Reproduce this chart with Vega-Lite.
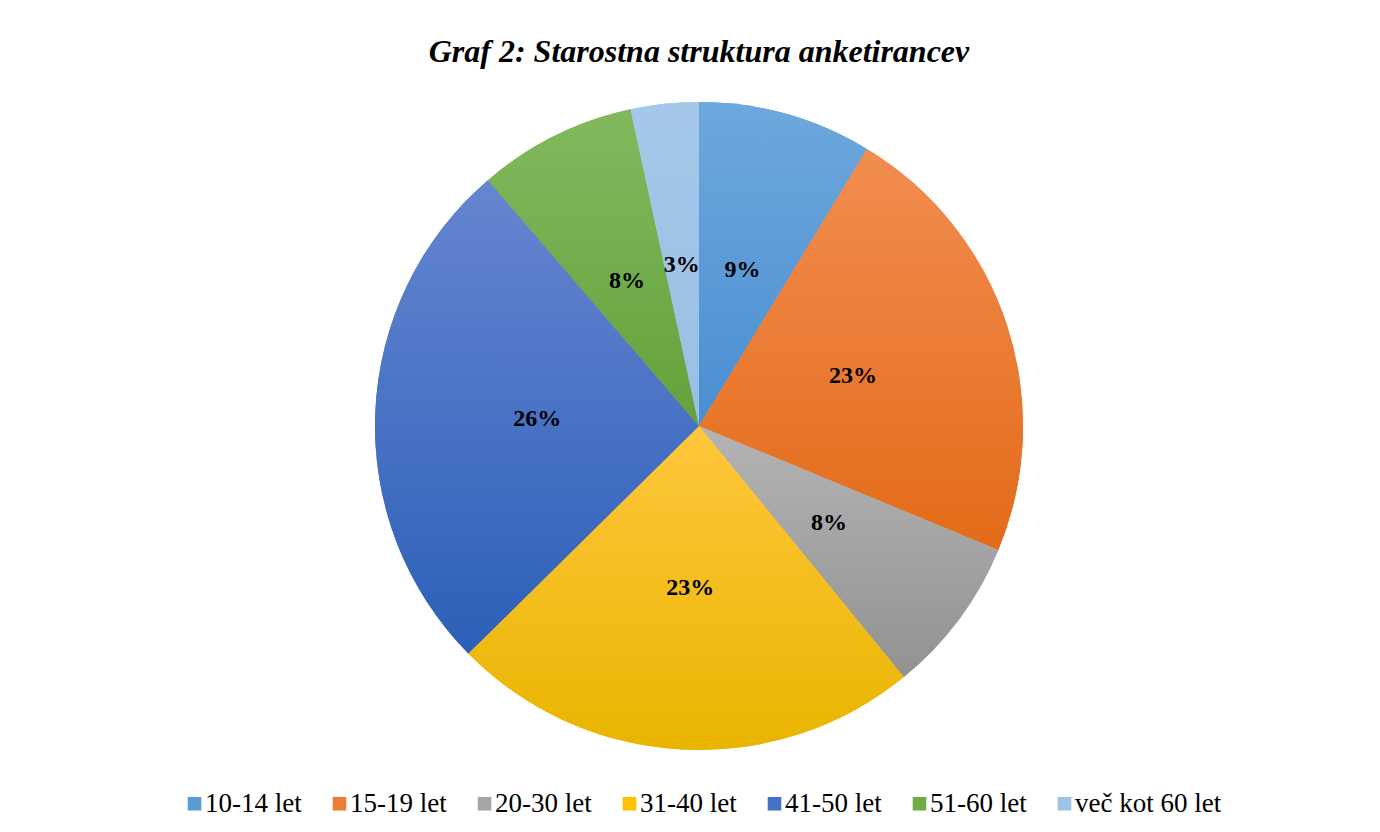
{
  "$schema": "https://vega.github.io/schema/vega-lite/v6.json",
  "autosize": "none",
  "width": 648,
  "height": 648,
  "padding": {"left": 375, "top": 102, "right": 357, "bottom": 82},
  "background": "white",
  "config": {
    "view": {"stroke": null},
    "legend": {"labelFont": "Liberation Serif", "labelFontSize": 27, "labelColor": "#000000"}
  },
  "title": {
    "text": "Graf 2: Starostna struktura anketirancev",
    "font": "Liberation Serif",
    "fontSize": 32,
    "fontWeight": "bold",
    "fontStyle": "italic",
    "color": "#000000",
    "anchor": "middle",
    "baseline": "alphabetic",
    "offset": 8
  },
  "data": {
    "values": [
      {"group": "10-14 let", "share": 8.67, "label": "9%"},
      {"group": "15-19 let", "share": 22.58, "label": "23%"},
      {"group": "20-30 let", "share": 7.86, "label": "8%"},
      {"group": "31-40 let", "share": 23.5, "label": "23%"},
      {"group": "41-50 let", "share": 26.1, "label": "26%"},
      {"group": "51-60 let", "share": 7.9, "label": "8%"},
      {"group": "več kot 60 let", "share": 3.39, "label": "3%"}
    ]
  },
  "transform": [
    {"stack": "share", "groupby": [], "as": ["t0", "t1"], "sort": [{"field": "group", "order": "ascending"}]}
  ],
  "layer": [
    {
      "mark": {"type": "arc", "stroke": null},
      "encoding": {
        "theta": {"field": "t0", "type": "quantitative", "scale": {"domain": [0, 100]}},
        "theta2": {"field": "t1"},
        "color": {
          "field": "group",
          "type": "nominal",
          "sort": null,
          "scale": {
            "domain": ["10-14 let", "15-19 let", "20-30 let", "31-40 let", "41-50 let", "51-60 let", "več kot 60 let"],
            "range": ["#5B9BD5", "#ED7D31", "#A5A5A5", "#FFC000", "#4472C4", "#70AD47", "#9DC3E6"]
          },
          "legend": {
            "title": null,
            "orient": "none",
            "direction": "horizontal",
            "legendX": -194,
            "legendY": 688,
            "padding": 0,
            "symbolType": "square",
            "symbolSize": 185,
            "symbolStrokeWidth": 0,
            "labelFont": "Liberation Serif",
            "labelFontSize": 27,
            "labelColor": "#000000",
            "labelOffset": -3,
            "columnPadding": 24,
            "labelLimit": 400
          }
        }
      }
    },
    {
      "transform": [{"filter": "datum.group == '10-14 let'"}],
      "mark": {"type": "arc", "stroke": null, "fill": {"gradient": "linear", "x1": 0, "y1": 0, "x2": 0, "y2": 1, "stops": [{"offset": 0, "color": "#6DA8DE"}, {"offset": 1, "color": "#4A8ED1"}]}},
      "encoding": {"theta": {"field": "t0", "type": "quantitative"}, "theta2": {"field": "t1"}}
    },
    {
      "transform": [{"filter": "datum.group == '15-19 let'"}],
      "mark": {"type": "arc", "stroke": null, "fill": {"gradient": "linear", "x1": 0, "y1": 0, "x2": 0, "y2": 1, "stops": [{"offset": 0, "color": "#F28D50"}, {"offset": 1, "color": "#E36B18"}]}},
      "encoding": {"theta": {"field": "t0", "type": "quantitative"}, "theta2": {"field": "t1"}}
    },
    {
      "transform": [{"filter": "datum.group == '20-30 let'"}],
      "mark": {"type": "arc", "stroke": null, "fill": {"gradient": "linear", "x1": 0, "y1": 0, "x2": 0, "y2": 1, "stops": [{"offset": 0, "color": "#B4B4B4"}, {"offset": 1, "color": "#929292"}]}},
      "encoding": {"theta": {"field": "t0", "type": "quantitative"}, "theta2": {"field": "t1"}}
    },
    {
      "transform": [{"filter": "datum.group == '31-40 let'"}],
      "mark": {"type": "arc", "stroke": null, "fill": {"gradient": "linear", "x1": 0, "y1": 0, "x2": 0, "y2": 1, "stops": [{"offset": 0, "color": "#FFC73D"}, {"offset": 1, "color": "#E9B500"}]}},
      "encoding": {"theta": {"field": "t0", "type": "quantitative"}, "theta2": {"field": "t1"}}
    },
    {
      "transform": [{"filter": "datum.group == '41-50 let'"}],
      "mark": {"type": "arc", "stroke": null, "fill": {"gradient": "linear", "x1": 0, "y1": 0, "x2": 0, "y2": 1, "stops": [{"offset": 0, "color": "#6586D0"}, {"offset": 1, "color": "#2C5FB8"}]}},
      "encoding": {"theta": {"field": "t0", "type": "quantitative"}, "theta2": {"field": "t1"}}
    },
    {
      "transform": [{"filter": "datum.group == '51-60 let'"}],
      "mark": {"type": "arc", "stroke": null, "fill": {"gradient": "linear", "x1": 0, "y1": 0, "x2": 0, "y2": 1, "stops": [{"offset": 0, "color": "#82B95E"}, {"offset": 1, "color": "#63A23A"}]}},
      "encoding": {"theta": {"field": "t0", "type": "quantitative"}, "theta2": {"field": "t1"}}
    },
    {
      "transform": [{"filter": "datum.group == 'več kot 60 let'"}],
      "mark": {"type": "arc", "stroke": null, "fill": {"gradient": "linear", "x1": 0, "y1": 0, "x2": 0, "y2": 1, "stops": [{"offset": 0, "color": "#A5C8EA"}, {"offset": 1, "color": "#98BFE4"}]}},
      "encoding": {"theta": {"field": "t0", "type": "quantitative"}, "theta2": {"field": "t1"}}
    },
    {
      "mark": {
        "type": "text",
        "radius": 162,
        "font": "Liberation Serif",
        "fontSize": 24,
        "fontWeight": "bold",
        "color": "#000000",
        "align": "center",
        "baseline": "middle"
      },
      "encoding": {
        "theta": {"field": "share", "type": "quantitative", "stack": true},
        "detail": {"field": "group", "type": "nominal"},
        "order": {"field": "group", "type": "nominal", "sort": "ascending"},
        "text": {"field": "label", "type": "nominal"}
      }
    }
  ]
}
